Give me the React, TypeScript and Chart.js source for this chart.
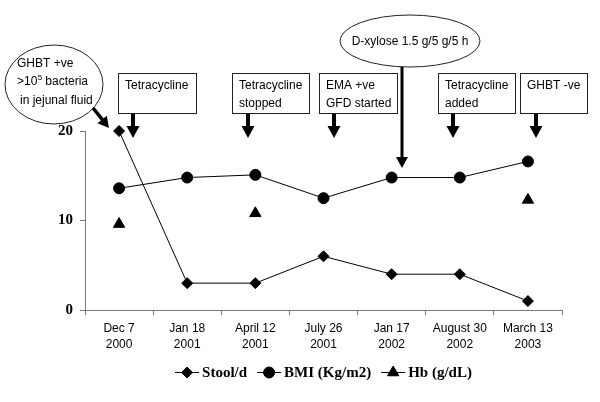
import React, { useEffect, useRef } from "react";
import { Chart, registerables } from "chart.js";
import { drawPoint } from "chart.js/helpers";

Chart.register(...registerables);

const categories = ["Dec 7", "Jan 18", "April 12", "July 26", "Jan 17", "August 30", "March 13"];
const years = ["2000", "2001", "2001", "2001", "2002", "2002", "2003"];
const stoolPerDay = [20, 3, 3, 6, 4, 4, 1];
const bmiValues = [13.6, 14.8, 15.1, 12.5, 14.8, 14.8, 16.6];
const hbValues = [9.6, null, 10.8, null, null, null, 12.3];
const yTickValues = [0, 10, 20];
const seriesNames = ["Stool/d", "BMI (Kg/m2)", "Hb (g/dL)"];

const boxNotes = [
  { lines: ["Tetracycline"], x0: 118, x1: 196, arrowX: 133 },
  { lines: ["Tetracycline", "stopped"], x0: 232, x1: 309, arrowX: 248 },
  { lines: ["EMA +ve", "GFD started"], x0: 319, x1: 397, arrowX: 334 },
  { lines: ["Tetracycline", "added"], x0: 438, x1: 515, arrowX: 453 },
  { lines: ["GHBT -ve"], x0: 520, x1: 587, arrowX: 536 },
];

const SANS = '"Liberation Sans", Arial, sans-serif';
const SERIF = '"Liberation Serif", "Times New Roman", serif';

function arrowDown(ctx: CanvasRenderingContext2D, x: number, y0: number, y1: number, shaftW: number, headW: number, headH: number) {
  ctx.fillRect(x - shaftW / 2, y0, shaftW, y1 - headH - y0 + 1);
  ctx.beginPath();
  ctx.moveTo(x - headW / 2, y1 - headH);
  ctx.lineTo(x + headW / 2, y1 - headH);
  ctx.lineTo(x, y1);
  ctx.closePath();
  ctx.fill();
}

function arrowAny(ctx: CanvasRenderingContext2D, x0: number, y0: number, x1: number, y1: number, shaftW: number, headW: number, headH: number) {
  const a = Math.atan2(y1 - y0, x1 - x0);
  const len = Math.hypot(x1 - x0, y1 - y0);
  ctx.save();
  ctx.translate(x0, y0);
  ctx.rotate(a);
  ctx.fillRect(0, -shaftW / 2, len - headH + 1, shaftW);
  ctx.beginPath();
  ctx.moveTo(len - headH, -headW / 2);
  ctx.lineTo(len - headH, headW / 2);
  ctx.lineTo(len, 0);
  ctx.closePath();
  ctx.fill();
  ctx.restore();
}

const annotationPlugin = {
  id: "notes",
  afterDraw(chart: any) {
    const ctx: CanvasRenderingContext2D = chart.ctx;
    ctx.save();
    ctx.fillStyle = "#000";
    ctx.strokeStyle = "#222";
    ctx.lineWidth = 1;
    ctx.textBaseline = "middle";
    ctx.textAlign = "left";
    ctx.font = `12px ${SANS}`;

    // boxes with arrows
    for (const b of boxNotes) {
      ctx.strokeRect(b.x0 + 0.5, 73.5, b.x1 - b.x0, 40);
      b.lines.forEach((t, i) => ctx.fillText(t, b.x0 + 7, 86 + i * 18));
      arrowDown(ctx, b.arrowX, 114, 138, 4, 13, 12);
    }

    // left ellipse
    ctx.beginPath();
    ctx.ellipse(54, 84.5, 49, 39.5, 0, 0, Math.PI * 2);
    ctx.stroke();
    ctx.fillText("GHBT +ve", 17, 64);
    ctx.fillText(">10", 17, 82);
    const w10 = ctx.measureText(">10").width;
    ctx.font = `8px ${SANS}`;
    ctx.fillText("5", 17 + w10 + 0.5, 78);
    const w5 = ctx.measureText("5").width;
    ctx.font = `12px ${SANS}`;
    ctx.fillText("bacteria", 17 + w10 + 0.5 + w5 + 3, 82);
    ctx.fillText("in jejunal fluid", 20, 101);
    arrowAny(ctx, 93, 108, 109, 128, 3.5, 12, 11);

    // D-xylose ellipse
    ctx.beginPath();
    ctx.ellipse(410, 41, 70, 26, 0, 0, Math.PI * 2);
    ctx.stroke();
    ctx.textAlign = "center";
    ctx.fillText("D-xylose 1.5 g/5 g/5 h", 410, 42);
    arrowDown(ctx, 402, 67, 168, 3, 12, 11);

    // legend
    const ds = chart.data.datasets;
    ctx.font = `bold 15px ${SERIF}`;
    ctx.textAlign = "left";
    const lineLen = 24, gap = 3, itemGap = 10;
    const widths = ds.map((d: any) => lineLen + gap + ctx.measureText(d.label).width);
    const total = widths.reduce((a: number, b: number) => a + b, 0) + itemGap * (ds.length - 1);
    const ca = chart.chartArea;
    let x = (ca.left + ca.right) / 2 - total / 2;
    const y = 372;
    ds.forEach((d: any, i: number) => {
      ctx.strokeStyle = "#000";
      ctx.lineWidth = 1;
      ctx.beginPath();
      ctx.moveTo(x, y + 0.5);
      ctx.lineTo(x + lineLen, y + 0.5);
      ctx.stroke();
      ctx.fillStyle = "#000";
      drawPoint(ctx, { pointStyle: d.pointStyle, radius: d.pointRadius, rotation: 0, borderWidth: 1 }, x + lineLen / 2, y + 0.5);
      ctx.fillText(d.label, x + lineLen + gap, y + 1);
      x += widths[i] + itemGap;
    });
    ctx.restore();
  },
};

export default function App() {
  const ref = useRef<HTMLCanvasElement>(null);
  useEffect(() => {
    if (!ref.current) return;
    const axisColor = "#777";
    const chart = new Chart(ref.current, {
      type: "line",
      data: {
        labels: categories.map((c, i) => [c, years[i]]),
        datasets: [
          {
            label: seriesNames[0],
            data: stoolPerDay,
            borderColor: "#000",
            backgroundColor: "#000",
            borderWidth: 1,
            pointStyle: "rectRot",
            pointRadius: 5.5,
            pointBackgroundColor: "#000",
            pointBorderColor: "#000",
            clip: false,
          },
          {
            label: seriesNames[1],
            data: bmiValues,
            borderColor: "#000",
            backgroundColor: "#000",
            borderWidth: 1,
            pointStyle: "circle",
            pointRadius: 5.5,
            pointBackgroundColor: "#000",
            pointBorderColor: "#000",
            clip: false,
          },
          {
            label: seriesNames[2],
            data: hbValues,
            showLine: false,
            borderColor: "#000",
            backgroundColor: "#000",
            borderWidth: 1,
            pointStyle: "triangle",
            pointRadius: 6.5,
            pointBackgroundColor: "#000",
            pointBorderColor: "#000",
            clip: false,
          },
        ],
      },
      options: {
        animation: false,
        responsive: true,
        maintainAspectRatio: false,
        layout: { padding: { top: 131, right: 38, left: 0, bottom: 0 } },
        plugins: { legend: { display: false }, tooltip: { enabled: false } },
        scales: {
          x: {
            offset: true,
            grid: { offset: true, drawOnChartArea: false, drawTicks: true, tickLength: 5, color: axisColor },
            border: { color: axisColor, width: 1 },
            ticks: {
              autoSkip: false,
              maxRotation: 0,
              padding: 6,
              color: "#000",
              font: { family: SANS, size: 12, lineHeight: 1.3333 },
            },
            afterFit: (s: any) => { s.height = 92; },
          },
          y: {
            min: 0,
            max: 20,
            grid: { drawOnChartArea: false, drawTicks: true, tickLength: 5, color: axisColor },
            border: { color: axisColor, width: 1 },
            afterBuildTicks: (s: any) => { s.ticks = yTickValues.map((v) => ({ value: v })); },
            ticks: {
              padding: 7,
              color: "#000",
              font: { family: SERIF, size: 15, weight: "bold" },
            },
            afterFit: (s: any) => { s.width = 85; },
          },
        },
      },
      plugins: [annotationPlugin],
    });
    return () => chart.destroy();
  }, []);
  return (
    <div style={{ position: "fixed", left: 0, top: 0, width: 600, height: 402, background: "#fff" }}>
      <canvas ref={ref} />
    </div>
  );
}
